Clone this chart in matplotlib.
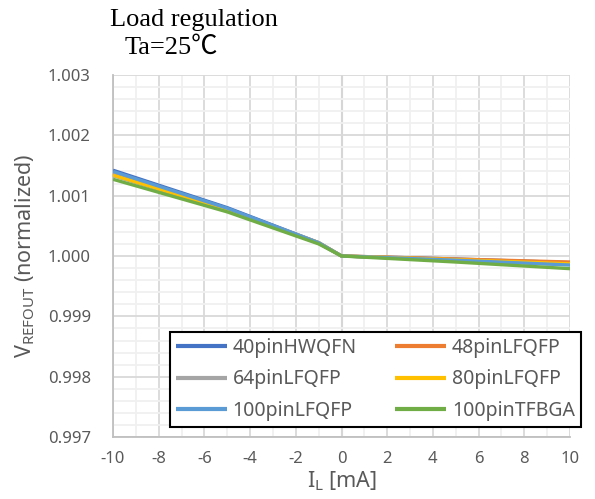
import matplotlib.pyplot as plt
from matplotlib.ticker import MultipleLocator

# load current [mA]
current = [-10, -5, -1, 0, 5, 10]

# normalized V_REFOUT per package
v_40hwqfn = [1.00142, 1.00080, 1.00022, 1.0, 0.99995, 0.99989]
v_48lfqfp = [1.00135, 1.00077, 1.00022, 1.0, 0.99995, 0.99990]
v_64lfqfp = [1.00133, 1.00076, 1.00021, 1.0, 0.99993, 0.99986]
v_80lfqfp = [1.00134, 1.00077, 1.00022, 1.0, 0.99994, 0.99987]
v_100lfqfp = [1.00140, 1.00079, 1.00022, 1.0, 0.99993, 0.99985]
v_100tfbga = [1.00127, 1.00073, 1.00020, 1.0, 0.99990, 0.99979]

series = [
    ("40pinHWQFN", v_40hwqfn, "#4472C4"),
    ("48pinLFQFP", v_48lfqfp, "#ED7D31"),
    ("64pinLFQFP", v_64lfqfp, "#A5A5A5"),
    ("80pinLFQFP", v_80lfqfp, "#FFC000"),
    ("100pinLFQFP", v_100lfqfp, "#5B9BD5"),
    ("100pinTFBGA", v_100tfbga, "#70AD47"),
]

plt.rcParams['font.family'] = ['Noto Sans', 'DejaVu Sans']
plt.rcParams['mathtext.default'] = 'regular'
plt.rcParams['axes.unicode_minus'] = False

fig = plt.figure(figsize=(5.95, 4.99), dpi=100)
ax = fig.add_axes([0.190, 0.124, 0.768, 0.726])

handles = []
for name, vals, col in series:
    h, = ax.plot(current, vals, color=col, lw=2.4, label=name, solid_capstyle='butt', zorder=3)
    handles.append(h)

ax.set_xlim(-10, 10)
ax.set_ylim(0.997, 1.003)
ax.xaxis.set_major_locator(MultipleLocator(2))
ax.xaxis.set_minor_locator(MultipleLocator(1))
ax.yaxis.set_major_locator(MultipleLocator(0.001))
ax.yaxis.set_minor_locator(MultipleLocator(0.0002))
ax.yaxis.set_major_formatter(plt.FuncFormatter(lambda v, p: f"{v:.3f}"))

ax.grid(which='major', color='#D9D9D9', lw=1.3, zorder=0)
ax.grid(which='minor', color='#F0F0F0', lw=1.3, zorder=0)
ax.axvline(0, color='#BFBFBF', lw=1.5, zorder=1)
for s in ['top', 'right']:
    ax.spines[s].set_visible(False)
for s in ['left', 'bottom']:
    ax.spines[s].set_color('#BFBFBF')
    ax.spines[s].set_linewidth(1.3)
ax.tick_params(which='both', length=0, labelsize=12, colors='#595959')
ax.tick_params(axis='y', pad=16)
ax.tick_params(axis='x', pad=10)

ax.set_xlabel("I$_{L}$ [mA]", fontsize=15.5, color='#595959', labelpad=2)
ax.set_ylabel("V$_{REFOUT}$ (normalized)", fontsize=15.5, color='#595959', labelpad=8)

# legend filled row by row like the original
order = [0, 2, 4, 1, 3, 5]
leg = ax.legend([handles[i] for i in order], [series[i][0] for i in order],
                ncol=2, loc='lower left', bbox_to_anchor=(0.125, 0.028, 0.898, 0.268),
                mode='expand', fontsize=14, frameon=True, fancybox=False,
                framealpha=1, edgecolor='black', handlelength=2.6,
                handletextpad=0.3, columnspacing=0.6, borderpad=0.3,
                labelspacing=0.6, borderaxespad=0)
leg.get_frame().set_linewidth(1.5)
for t in leg.get_texts():
    t.set_color('#595959')
for h in leg.get_lines():
    h.set_linewidth(3)

serif = ['Liberation Serif', 'Noto Sans CJK JP']
fig.text(110 / 595, 1 - 20 / 499, "Load regulation", fontsize=19, family=serif, va='center')
fig.text(125 / 595, 1 - 48 / 499, "Ta=25℃", fontsize=19, family=serif, va='center')

fig.savefig("out.png", dpi=100)
